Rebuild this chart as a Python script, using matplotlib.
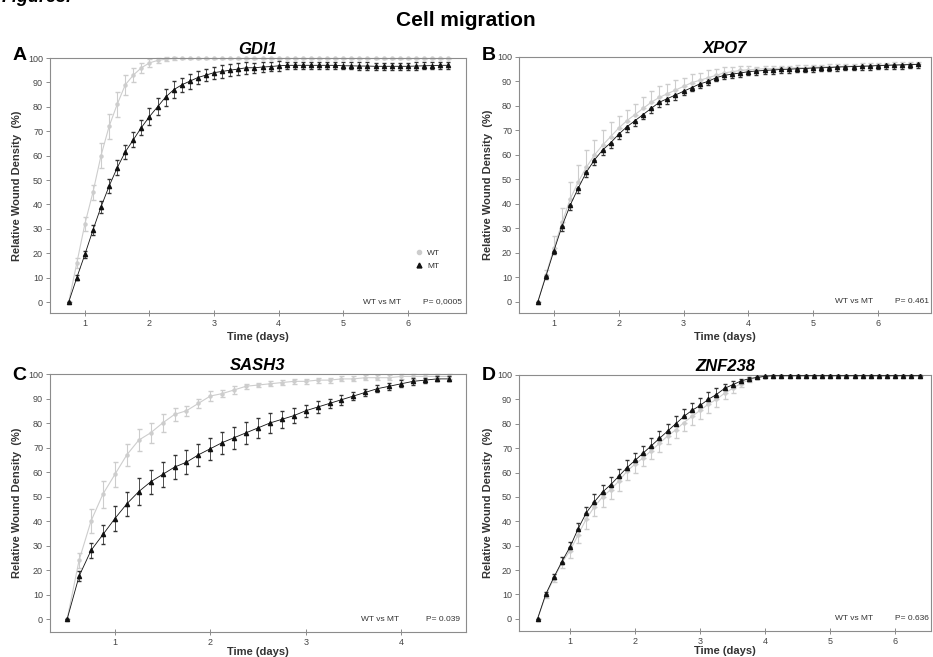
import matplotlib
matplotlib.use("Agg")
import matplotlib.pyplot as plt
import numpy as np
from matplotlib.lines import Line2D

plt.rcParams['font.family'] = ['Liberation Sans', 'DejaVu Sans']

# Time grids (one point every 3 h)
STEP = 0.125
t_ab = np.arange(48) * STEP + 0.75
t_c = np.arange(33) * STEP + 0.5
t_d = np.arange(48) * STEP + 0.5

# A - GDI1
gdi1_mt = [0, 10, 19.5, 29.5, 39, 47.5, 55, 61.5, 66.5, 71.5, 76, 80, 84, 87, 89, 90.5,
           92, 93, 94, 94.5, 95, 95.5, 96, 96, 96.3, 96.5, 96.8,
           97, 97, 97, 97, 97, 97, 97, 96.8, 96.8, 96.7, 96.7, 96.6, 96.6, 96.6, 96.6,
           96.6, 96.7, 96.8, 96.9, 97, 97]
gdi1_mt_err = [0, 1, 1.5, 2, 2.5, 3, 3, 3, 3, 3, 3.5, 3.5, 3.5, 3.5, 3, 3, 2.5, 2.5,
               2.5, 2.5, 2.5, 2.5, 2.5, 2, 2, 2, 2] + [1.5] * 21
gdi1_wt = [0, 16, 32, 45, 60, 72, 81, 89, 93, 96, 98, 99, 99.5, 99.8] + [99.8] * 34
gdi1_wt_err = [0, 2, 3, 3, 5, 5, 5, 4, 3, 2, 1.5, 1, 0.8, 0.5] + [0.3] * 34

# B - XPO7
xpo7_mt = [0, 10.5, 21, 31, 39.5, 46.5, 53, 58, 62, 65, 68.5, 71.5, 74, 76.5, 79, 81.5,
           83, 84.5, 86, 87.5, 89, 90, 91.5, 92.5, 93, 93.5, 94,
           94.3, 94.5, 94.7, 94.9, 95, 95.2, 95.3, 95.5, 95.6, 95.7, 95.9, 96, 96.1,
           96.2, 96.3, 96.5, 96.6, 96.7, 96.8, 96.9, 97]
xpo7_mt_err = [0, 1, 1.5, 2, 2, 2, 2, 2, 2, 2, 2, 2, 2, 2, 2, 2, 2, 2] + [1.5] * 30
xpo7_wt = [0, 11, 22, 32.5, 42, 49, 55, 60, 64, 67.5, 71, 74, 76.5, 79, 81.5, 83.5,
           85, 86.5, 88, 89.5, 90.5, 91.5, 92.5, 93.5, 94, 94.5, 94.8,
           95, 95.2, 95.3, 95.4, 95.5, 95.6, 95.7, 95.8, 95.9, 96, 96.1, 96.2, 96.3,
           96.4, 96.5, 96.6, 96.7, 96.8, 96.9, 97, 97.1]
xpo7_wt_err = [0, 2, 5, 6, 7, 7, 7, 6, 6, 6, 5, 4.5, 4.5, 4.5, 4.5, 4.5, 4, 4, 3.5,
               3.5, 3, 3, 2.5, 2.5, 2, 2, 1.5] + [1] * 21

# C - SASH3
sash3_mt = [0, 17.5, 28, 34.5, 41, 47, 52, 56, 59, 62, 64, 67, 69.5, 72, 74, 76, 78,
            80, 81.5, 83, 85, 86.5, 88, 89.5, 91, 92.5, 94, 95, 96, 97, 97.5, 98, 98]
sash3_mt_err = [0, 2, 3, 4, 5, 5, 5.5, 5, 5, 5, 5, 4.5, 4.5, 4.5, 4.5, 4.5, 4, 4, 3.5,
                3, 2.5, 2.5, 2, 2, 1.5, 1.5, 1.5, 1.5, 1.5, 1.5, 1, 1, 1]
sash3_wt = [0, 24, 40, 51, 59, 67, 73, 76, 80, 83.5, 85, 88, 91, 92, 93.5, 95, 95.5,
            96, 96.5, 97, 97, 97.5, 97.5, 98, 98, 98.5, 98.5, 98.5, 99, 99, 99, 99, 99]
sash3_wt_err = [0, 3, 5, 5.5, 5, 4.5, 4.5, 4, 3.5, 2.5, 2, 2, 2, 1.5, 1.5] + [1] * 18

# D - ZNF238
znf238_mt = [0, 10, 17, 23.5, 29.5, 37, 43.5, 48, 52, 55, 58.5, 62, 65, 68, 71, 74, 77,
             80, 83, 85.5, 87.5, 90, 92, 94.5, 96, 97.5, 98.5, 99, 99.5] + [99.7] * 19
znf238_mt_err = [0, 1, 1.5, 2, 2, 2.5, 2.5, 3, 3, 3, 3, 3, 3, 3, 3, 3, 3, 3, 3, 3, 3, 3,
                 2.5, 2, 1.5, 1, 0.5, 0.3] + [0.2] * 20
znf238_wt = [0, 9.5, 16.5, 23, 28, 34.5, 41, 46, 50, 53, 56.5, 60.5, 63.5, 66, 69, 72,
             75, 77.5, 80.5, 83, 85.5, 88, 90, 92.5, 94.5, 96.5, 98, 99, 99.3] + [99.6] * 19
znf238_wt_err = [0, 1, 1.5, 2, 3, 3.5, 4, 4, 4, 4, 4, 3.5, 3.5, 3.5, 3.5, 3.5, 3.5, 3.5,
                 3.5, 3.5, 3.5, 3.5, 3, 2.5, 2, 1.5, 1, 0.5, 0.3] + [0.2] * 19

W, H = 933, 657
WT_COLOR = '#cdcdcd'
MT_COLOR = '#111111'
SPINE = '#8c8c8c'

fig = plt.figure(figsize=(W / 100, H / 100), dpi=100)


def add_panel(box, xlim, ylim, xticks):
    l, t, r, b = box
    ax = fig.add_axes([l / W, 1 - b / H, (r - l) / W, (b - t) / H])
    ax.set_xlim(*xlim)
    ax.set_ylim(*ylim)
    ax.set_xticks(xticks)
    ax.set_yticks(range(0, 101, 10))
    for s in ax.spines.values():
        s.set_color(SPINE)
        s.set_linewidth(0.8)
    ax.tick_params(axis='both', labelsize=6.5, colors=SPINE, labelcolor='#444444',
                   width=0.7)
    ax.tick_params(axis='x', direction='inout', length=5, pad=2)
    ax.tick_params(axis='y', direction='out', length=3, pad=2)
    return ax


def draw(ax, t, wt, wt_err, mt, mt_err):
    ax.errorbar(t, wt, yerr=wt_err, color=WT_COLOR, ecolor=WT_COLOR, lw=0.8,
                elinewidth=0.8, capsize=1.8, marker='o', ms=2.2, mec=WT_COLOR,
                mfc=WT_COLOR, zorder=2, clip_on=False)
    ax.errorbar(t, mt, yerr=mt_err, color=MT_COLOR, ecolor='#333333', lw=0.6,
                elinewidth=0.6, capsize=1.6, marker='^', ms=3.0, mec=MT_COLOR,
                mfc=MT_COLOR, zorder=3, clip_on=False)


def labels(ax, title, ylab_x, xlab_y, vs_x, p_x, ptext):
    ax.set_title(title, fontsize=12, fontweight='bold', fontstyle='italic', pad=3)
    ax.set_ylabel('Relative Wound Density  (%)', fontsize=8, fontweight='bold',
                  color='#333333')
    ax.yaxis.set_label_coords(ylab_x, 0.5)
    ax.set_xlabel('Time (days)', fontsize=8, fontweight='bold', color='#333333')
    ax.xaxis.set_label_coords(0.5, xlab_y)
    tr = ax.get_yaxis_transform()
    ax.text(vs_x, 0, 'WT vs MT', transform=tr, ha='right', va='center', fontsize=6,
            color='#333333')
    ax.text(p_x, 0, ptext, transform=tr, ha='right', va='center', fontsize=6,
            color='#333333')


axA = add_panel((50, 58, 466, 313), (0.46, 6.9), (-4.5, 100), range(1, 7))
draw(axA, t_ab, gdi1_wt, gdi1_wt_err, gdi1_mt, gdi1_mt_err)
labels(axA, 'GDI1', -0.067, -0.075, 0.845, 0.99, 'P= 0,0005')
handles = [Line2D([], [], ls='none', marker='o', ms=3, color=WT_COLOR, label='WT'),
           Line2D([], [], ls='none', marker='^', ms=3.5, color=MT_COLOR, label='MT')]
axA.legend(handles=handles, loc='upper left', bbox_to_anchor=(0.86, 0.28),
           frameon=False, fontsize=6, handlelength=1.0, handletextpad=0.4,
           labelspacing=0.6, labelcolor='#333333')

axB = add_panel((519, 57, 931, 313), (0.46, 6.82), (-4.5, 100), range(1, 7))
draw(axB, t_ab, xpo7_wt, [np.zeros(48), xpo7_wt_err], xpo7_mt, [xpo7_mt_err, np.zeros(48)])
labels(axB, 'XPO7', -0.063, -0.075, 0.86, 0.995, 'P= 0.461')

axC = add_panel((50, 374, 466, 632), (0.32, 4.68), (-5.3, 100), range(1, 5))
draw(axC, t_c, sash3_wt, sash3_wt_err, sash3_mt, sash3_mt_err)
labels(axC, 'SASH3', -0.067, -0.058, 0.84, 0.985, 'P= 0.039')

axD = add_panel((519, 375, 931, 631), (0.215, 6.55), (-5, 100), range(1, 7))
draw(axD, t_d, znf238_wt, [znf238_wt_err, np.zeros(48)], znf238_mt,
     [np.zeros(48), znf238_mt_err])
labels(axD, 'ZNF238', -0.063, -0.058, 0.86, 0.995, 'P= 0.636')

# panel letters and titles
for letter, (x, y) in zip('ABCD', [(20, 56), (489, 55), (19, 375), (489, 375)]):
    fig.text(x / W, 1 - y / H, letter, fontsize=14, fontweight='bold',
             ha='center', va='center')
fig.text(466 / W, 1 - 20 / H, 'Cell migration', fontsize=15, fontweight='bold',
         ha='center', va='center')
fig.text(0.002, 1 - 6 / H, 'Figure3.', fontsize=13, fontweight='bold',
         fontstyle='italic', ha='left', va='bottom')

fig.savefig('out.png', dpi=100)
